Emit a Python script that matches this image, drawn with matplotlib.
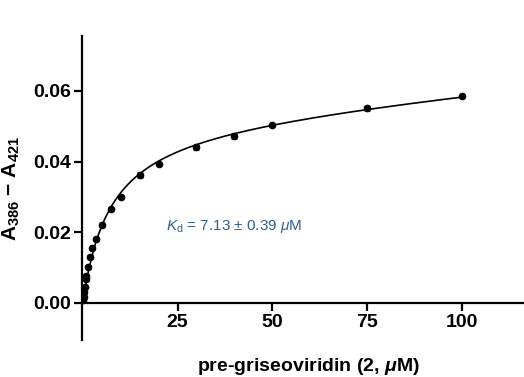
import matplotlib
matplotlib.use("Agg")
import matplotlib.pyplot as plt
import numpy as np

# binding titration: concentration (uM) vs absorbance difference
conc = [0.1, 0.25, 0.4, 0.6, 0.75, 0.9, 1.25, 1.75, 2.5, 3.5, 5, 7.5, 10,
        15, 20, 30, 40, 50, 75, 100]
signal = [0.0008, 0.0018, 0.0030, 0.0045, 0.0067, 0.0076, 0.0102, 0.0129,
          0.0156, 0.0182, 0.0222, 0.0266, 0.0300, 0.0363, 0.0394, 0.0441,
          0.0473, 0.0504, 0.0551, 0.0585]
sem = [0.0003, 0.0003, 0.0004, 0.0004, 0.0005, 0.0005, 0.0005, 0.0006,
       0.0006, 0.0006, 0.0006, 0.0003, 0.0006, 0.0008, 0.0003, 0.0007,
       0.0008, 0.0002, 0.0007, 0.0002]
kd = 7.13
kd_err = 0.39
xticks = [25, 50, 75, 100]
yticks = [0.00, 0.02, 0.04, 0.06]

plt.rcParams["font.family"] = ["Liberation Sans", "DejaVu Sans"]
plt.rcParams["mathtext.fontset"] = "custom"
plt.rcParams["mathtext.rm"] = "Liberation Sans"
plt.rcParams["mathtext.it"] = "Liberation Sans:italic"
plt.rcParams["mathtext.bf"] = "Liberation Sans:bold"
plt.rcParams["mathtext.bfit"] = "Liberation Sans:italic:bold"

x = np.array(conc)
y = np.array(signal)

# one-site specific + nonspecific fit with Kd fixed from the label
A = np.column_stack([x / (kd + x), x])
coef, *_ = np.linalg.lstsq(A, y, rcond=None)
xf = np.linspace(0, 100, 400)
yf = coef[0] * xf / (kd + xf) + coef[1] * xf

fig = plt.figure(figsize=(5.24, 3.77), dpi=100)
ax = fig.add_axes([0.156, 0.098, 0.844, 0.806])

ax.plot(xf, yf, color="black", lw=1.2, zorder=2)
ax.errorbar(x, y, yerr=sem, fmt="o", color="black", ms=4.5,
            ecolor="#555555", elinewidth=0.8, capsize=2.5, capthick=0.8,
            zorder=3)

ax.set_xlim(-0.3, 116.5)
ax.set_ylim(-0.0105, 0.0755)
ax.spines["bottom"].set_position(("data", 0))
ax.spines["top"].set_visible(False)
ax.spines["right"].set_visible(False)
for s in ("left", "bottom"):
    ax.spines[s].set_linewidth(1.6)

ax.set_xticks(xticks)
ax.set_yticks(yticks)
ax.set_yticklabels([f"{v:.2f}" for v in yticks])
ax.tick_params(direction="out", length=6, width=1.6, labelsize=14, pad=2)
for lab in ax.get_xticklabels() + ax.get_yticklabels():
    lab.set_fontweight("bold")

fig.text(0.589, 0.027, r"pre-griseoviridin (2, $\mathbfit{\mu}$M)",
         ha="center", va="center", fontsize=14, fontweight="bold")
fig.text(0.022, 0.50, r"A$_\mathbf{386}$ − A$_\mathbf{421}$", rotation=90,
         ha="center", va="center", fontsize=15, fontweight="bold")

ax.text(22, 0.0217, rf"$K_\mathrm{{d}}$ = {kd:.2f} ± {kd_err:.2f} $\mu$M",
        color="#34608f", fontsize=11, ha="left", va="center")

fig.savefig("out.png", dpi=100)
